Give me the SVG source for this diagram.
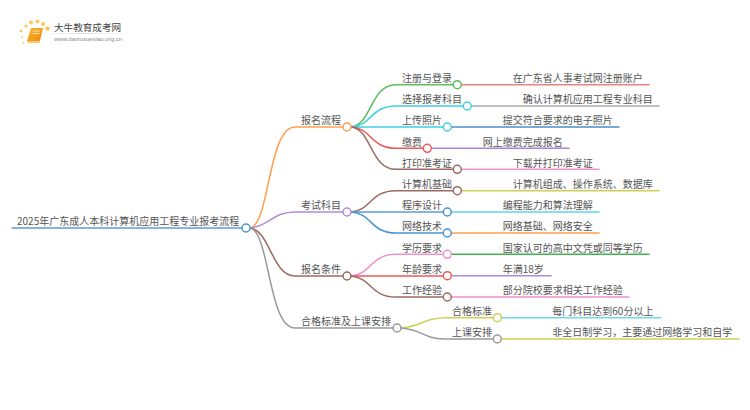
<svg xmlns="http://www.w3.org/2000/svg" width="750" height="410" viewBox="0 0 750 410">
<style>
text{font-family:"Noto Sans CJK SC","Noto Sans",sans-serif;font-size:10px;fill:#555}
.c{fill:none;stroke-width:1.5;stroke-linecap:round}
.d{fill:#fff;stroke-width:1.5}
.dot{fill:#fdc75a}
</style>
<defs><linearGradient id="lg" x1="0" x2="1" y1="0" y2="0"><stop offset="0" stop-color="#ddd" stop-opacity="0.2"/><stop offset="0.4" stop-color="#ddd"/><stop offset="1" stop-color="#ddd" stop-opacity="0"/></linearGradient>
<linearGradient id="bk" x1="0" x2="1" y1="0" y2="1"><stop offset="0" stop-color="#fbb62c"/><stop offset="1" stop-color="#ee8a12"/></linearGradient></defs>
<rect width="750" height="410" fill="#fff"/>
<g id="logo">
<circle class="dot" cx="21" cy="31" r="1.3"/><circle class="dot" cx="26" cy="26" r="1.6"/><circle class="dot" cx="31" cy="22.5" r="2"/><circle class="dot" cx="37.5" cy="21.5" r="2"/><circle class="dot" cx="43" cy="24" r="2"/><circle class="dot" cx="47.5" cy="28.5" r="2.2"/><circle class="dot" cx="22" cy="37" r="1"/><circle class="dot" cx="23.5" cy="43" r="0.9"/>
<path d="M31 28H43L40 41H27Z" fill="url(#bk)"/><path d="M27 41H40L39.5 43H28Z" fill="#f9c675"/><path d="M33 31H40M32.5 33.5H39.5" stroke="#fde3b0" stroke-width="1"/>
<rect x="44" y="33" width="90" height="1" fill="url(#lg)"/>
<text x="54" y="31" style="font-size:9.6px;fill:#444">大牛教育成考网</text>
<text x="54" y="41" style="font-size:6px;fill:#888;font-family:'Liberation Sans',sans-serif">www.daniuxuexiao.org.cn</text>
</g>
<g id="connectors">
<path class="c" stroke="#5b9fd4" d="M12 228H246"/>
<path class="c" stroke="#ff9f4d" d="M250 228C270 224 268 127 295 127H347"/>
<path class="c" stroke="#b48ad9" d="M250 228C270 226 272 212 295 212H347"/>
<path class="c" stroke="#9c6b62" d="M250 228C270 230 272 276 295 276H347"/>
<path class="c" stroke="#999" d="M250 228C270 232 268 328 295 328H397"/>
<path class="c" stroke="#5cbd5c" d="M351 127C372 125 370 84.7 396 84.7H457"/>
<path class="c" stroke="#3fd0e4" d="M351 127C372 126 370 106 396 106H467"/>
<path class="c" stroke="#3fd0e4" d="M351 127H447"/>
<path class="c" stroke="#ee5a5a" d="M351 127C372 128 370 148.3 396 148.3H427"/>
<path class="c" stroke="#9c6b62" d="M351 127C372 129 370 169.3 396 169.3H457"/>
<path class="c" stroke="#9c6b62" d="M351 212C372 210 370 190.7 396 190.7H457"/>
<path class="c" stroke="#5b9fd4" d="M351 212H447"/>
<path class="c" stroke="#4a95d0" d="M351 212C372 213 370 233 396 233H447"/>
<path class="c" stroke="#f48fd0" d="M351 276C372 274 370 254.3 396 254.3H447"/>
<path class="c" stroke="#ee5a5a" d="M351 276H447"/>
<path class="c" stroke="#9c6b62" d="M351 276C372 278 370 297 396 297H447"/>
<path class="c" stroke="#cfcf55" d="M401 328C425 326 422 317.7 447 317.7H497"/>
<path class="c" stroke="#999" d="M401 328C425 330 422 339 447 339H497"/>
<path class="c" stroke="#f08080" d="M457 84.7H649"/>
<path class="c" stroke="#aaa" d="M467 106H659"/>
<path class="c" stroke="#4a90cc" d="M447 127H619"/>
<path class="c" stroke="#ab82d9" d="M427 148.3H569"/>
<path class="c" stroke="#f48fd0" d="M457 169.3H599"/>
<path class="c" stroke="#cfcf55" d="M457 190.7H659"/>
<path class="c" stroke="#5fd5e5" d="M447 212H599"/>
<path class="c" stroke="#ff9f4d" d="M447 233H599"/>
<path class="c" stroke="#3fb34f" d="M447 254.3H649"/>
<path class="c" stroke="#ab8cd9" d="M447 275.7H551"/>
<path class="c" stroke="#f48fd0" d="M447 297H629"/>
<path class="c" stroke="#6fd9e8" d="M497 317.7H661"/>
<path class="c" stroke="#cfcf55" d="M497 339H739"/>
</g>
<g id="root"><text x="17" y="225">2025年广东成人本科计算机应用工程专业报考流程</text><circle class="d" cx="246" cy="228" r="4" stroke="#4a95d0"/></g>
<g id="n1"><text x="301" y="124">报名流程</text><circle class="d" cx="347" cy="127" r="4" stroke="#ff9f4d"/></g>
<g id="n2"><text x="301" y="209">考试科目</text><circle class="d" cx="347" cy="212" r="4" stroke="#b48ad9"/></g>
<g id="n3"><text x="301" y="273">报名条件</text><circle class="d" cx="347" cy="276" r="4" stroke="#9c6b62"/></g>
<g id="n4"><text x="301" y="325">合格标准及上课安排</text><circle class="d" cx="397" cy="328" r="4" stroke="#999"/></g>
<g id="n11"><text x="402" y="82">注册与登录</text><circle class="d" cx="457.3" cy="84.7" r="4" stroke="#5cbd5c"/></g>
<g id="n12"><text x="402" y="103">选择报考科目</text><circle class="d" cx="467.3" cy="106" r="4" stroke="#3fd0e4"/></g>
<g id="n13"><text x="402" y="124">上传照片</text><circle class="d" cx="447.3" cy="127" r="4" stroke="#3fd0e4"/></g>
<g id="n14"><text x="402" y="145.500">缴费</text><circle class="d" cx="427.3" cy="148.3" r="4" stroke="#ee5a5a"/></g>
<g id="n15"><text x="402" y="166.500">打印准考证</text><circle class="d" cx="457.3" cy="169.3" r="4" stroke="#9c6b62"/></g>
<g id="n21"><text x="402" y="188">计算机基础</text><circle class="d" cx="457.3" cy="190.7" r="4" stroke="#9c6b62"/></g>
<g id="n22"><text x="402" y="209">程序设计</text><circle class="d" cx="447.3" cy="212" r="4" stroke="#4a95d0"/></g>
<g id="n23"><text x="402" y="230">网络技术</text><circle class="d" cx="447.3" cy="233" r="4" stroke="#4a95d0"/></g>
<g id="n31"><text x="402" y="251.500">学历要求</text><circle class="d" cx="447.3" cy="254.3" r="4" stroke="#f48fd0"/></g>
<g id="n32"><text x="402" y="273">年龄要求</text><circle class="d" cx="447.3" cy="275.7" r="4" stroke="#ee5a5a"/></g>
<g id="n33"><text x="402" y="294">工作经验</text><circle class="d" cx="447.3" cy="297" r="4" stroke="#9c6b62"/></g>
<g id="n41"><text x="452" y="315">合格标准</text><circle class="d" cx="497.3" cy="317.7" r="4" stroke="#cfcf55"/></g>
<g id="n42"><text x="452" y="336">上课安排</text><circle class="d" cx="497.3" cy="339" r="4" stroke="#999"/></g>
<g id="l11"><text x="512.700" y="82">在广东省人事考试网注册账户</text></g>
<g id="l12"><text x="522.700" y="103">确认计算机应用工程专业科目</text></g>
<g id="l13"><text x="502.700" y="124">提交符合要求的电子照片</text></g>
<g id="l14"><text x="482.700" y="145.500">网上缴费完成报名</text></g>
<g id="l15"><text x="512.700" y="166.500">下载并打印准考证</text></g>
<g id="l21"><text x="512.700" y="188">计算机组成、操作系统、数据库</text></g>
<g id="l22"><text x="502.700" y="209">编程能力和算法理解</text></g>
<g id="l23"><text x="502.700" y="230">网络基础、网络安全</text></g>
<g id="l31"><text x="502.700" y="251.500">国家认可的高中文凭或同等学历</text></g>
<g id="l32"><text x="502.700" y="273">年满18岁</text></g>
<g id="l33"><text x="502.700" y="294">部分院校要求相关工作经验</text></g>
<g id="l41"><text x="552.300" y="315">每门科目达到60分以上</text></g>
<g id="l42"><text x="552.300" y="336">非全日制学习，主要通过网络学习和自学</text></g>
</svg>
